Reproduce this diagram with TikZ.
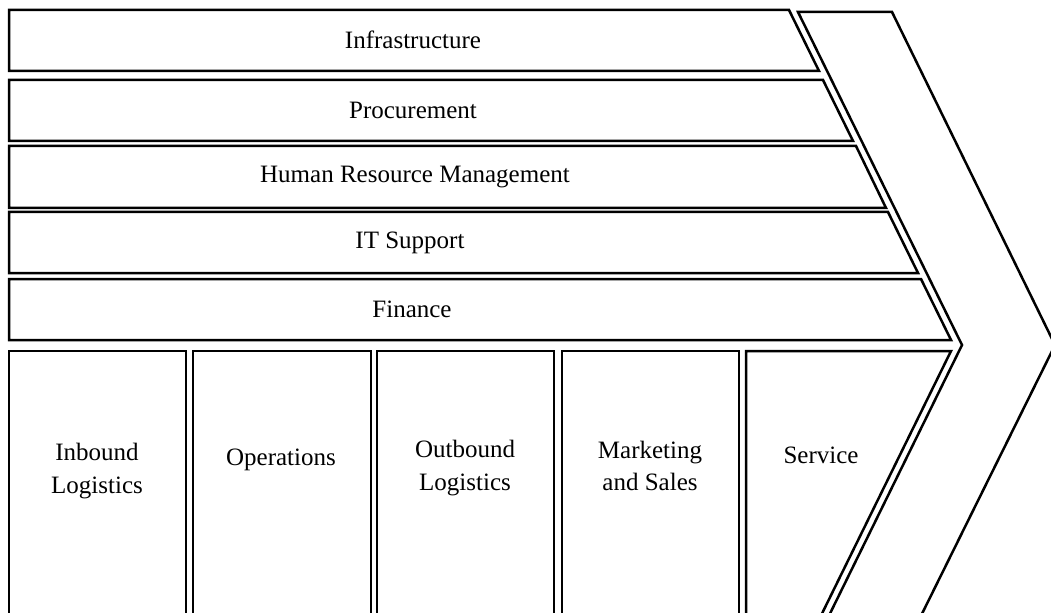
\documentclass[tikz,border=0pt]{standalone}
\usepackage{fontspec}
\setmainfont{Liberation Serif}

\begin{document}
\begin{tikzpicture}[x=0.4pt, y=-0.4pt, line width=1pt, font=\fontsize{10}{13}\selectfont]
	\useasboundingbox (0,0) rectangle (1051,612);
	\clip (0,0) rectangle (1051,612);
	% margin chevron
	\draw (798,12) -- (892,12) -- (1055,345) -- (909,640) -- (817,640) -- (962,345) -- cycle;
	% support activities
	\draw (9,10) -- (789,10) -- (819,71) -- (9,71) -- cycle;
	\draw (9,80) -- (823,80) -- (853,141) -- (9,141) -- cycle;
	\draw (9,146) -- (856,146) -- (886,208) -- (9,208) -- cycle;
	\draw (9,212) -- (888,212) -- (918,273) -- (9,273) -- cycle;
	\draw (9,279) -- (921,279) -- (951,340) -- (9,340) -- cycle;
	\node (infra) at (413,40) {Infrastructure};
	\node (proc) at (413,110) {Procurement};
	\node (hrm) at (415,177) {Human Resource Management};
	\node (itsup) at (410,243) {IT Support};
	\node (fin) at (412,309) {Finance};
	% primary activities
	\draw (9,640) -- (9,351) -- (186,351) -- (186,640);
	\draw (193,640) -- (193,351) -- (371,351) -- (371,640);
	\draw (377,640) -- (377,351) -- (554,351) -- (554,640);
	\draw (562,640) -- (562,351) -- (739,351) -- (739,640);
	\draw (746,640) -- (746,351) -- (951,351) -- (809,640);
	\node[align=center] (inbound) at (97,471) {Inbound\\Logistics};
	\node (ops) at (281,460) {Operations};
	\node[align=center] (outbound) at (465,468) {Outbound\\Logistics};
	\node[align=center] (mkt) at (650,466) {Marketing\\and Sales};
	\node (serv) at (821,455) {Service};
\end{tikzpicture}
\end{document}
